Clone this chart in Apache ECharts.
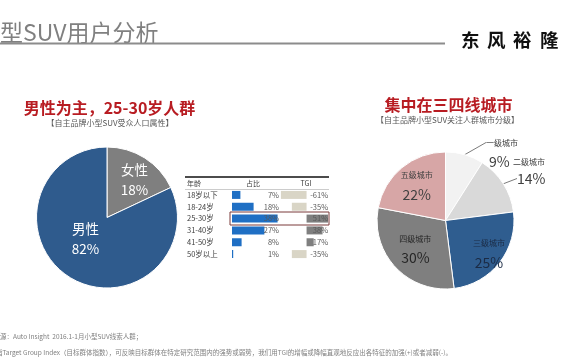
<!DOCTYPE html>
<html><head><meta charset="utf-8">
<script src="https://cdn.jsdelivr.net/npm/echarts@6/dist/echarts.min.js"></script>
<style>html,body{margin:0;padding:0;background:#fff}#c{width:570px;height:360px}</style>
</head><body><div id="c"></div>
<script>
const genderCats = ['女性', '男性'];
const genderVals = [18, 82];
const ageCats = ['18岁以下', '18-24岁', '25-30岁', '31-40岁', '41-50岁', '50岁以上'];
const ageShare = [7, 18, 38, 27, 8, 1];
const ageTGI = [-61, -35, 51, 38, 17, -35];
const cityCats = ['一级城市', '二级城市', '三级城市', '四级城市', '五级城市'];
const cityVals = [9, 14, 25, 30, 22];

const FF = '"Noto Sans CJK SC", "Noto Sans", sans-serif';
const SHARE_MAX = 40, TGI_MIN = -62, TGI_MAX = 56;

function txt(x, y, text, size, fill, opts) {
  return Object.assign({ type: 'text', x: x, y: y, silent: true,
    style: Object.assign({ text: text, fontSize: size, fontFamily: FF, fill: fill,
      align: 'left', verticalAlign: 'middle' }, (opts || {})) });
}

const graphics = [
  txt(0, 32, '型SUV用户分析', 23, '#808080'),
  { type: 'line', silent: true, shape: { x1: 0, y1: 43.5, x2: 445, y2: 43.5 }, style: { stroke: '#8C8C8C', lineWidth: 2 } },
  txt(461, 40, '东', 18.5, '#111', { fontWeight: 'bold' }),
  txt(487, 40, '风', 18.5, '#111', { fontWeight: 'bold' }),
  txt(513, 40, '裕', 18.5, '#111', { fontWeight: 'bold' }),
  txt(540, 40, '隆', 18.5, '#111', { fontWeight: 'bold' }),
  txt(109.5, 108, '男性为主，25-30岁人群', 16, '#B81C22', { fontWeight: 'bold', align: 'center' }),
  txt(110, 123, '【自主品牌小型SUV受众人口属性】', 8, '#595959', { align: 'center' }),
  txt(448.5, 105, '集中在三四线城市', 16, '#B81C22', { fontWeight: 'bold', align: 'center' }),
  txt(447.5, 120, '【自主品牌小型SUV关注人群城市分级】', 8, '#595959', { align: 'center' }),
  { type: 'line', silent: true, shape: { x1: 185, y1: 177, x2: 329, y2: 177 }, style: { stroke: '#111', lineWidth: 1.5 } },
  { type: 'line', silent: true, shape: { x1: 185, y1: 189.5, x2: 329, y2: 189.5 }, style: { stroke: '#BFBFBF', lineWidth: 0.8 } },
  txt(187, 183, '年龄', 7, '#404040'),
  txt(253, 183, '占比', 7, '#404040', { align: 'center' }),
  txt(306, 183, 'TGI', 7, '#404040', { align: 'center' }),
  { type: 'rect', silent: true, z: 100, shape: { x: 230, y: 212, width: 99, height: 13 }, style: { fill: 'none', stroke: '#7A3B3B', lineWidth: 1 } },
  txt(0, 337, '源：Auto Insight  2016.1-1月小型SUV线索人群；', 6.5, '#808080'),
  txt(-4, 353, '指Target Group Index（目标群体指数），可反映目标群体在特定研究范围内的强势或弱势，我们用TGI的增幅或降幅直观地反应出各特征的加强(+)或者减弱(-)。', 6.5, '#808080')
];

const genderColors = ['#7F7F7F', '#2F5B8D'];
const cityColors = ['#F2F2F2', '#D9D9D9', '#2F5D8F', '#7F7F7F', '#D7A6A6'];
const cityTextColors = ['#404040', '#404040', '#1B2B45', '#262626', '#404040'];
const CITY_CENTER = [445.5, 220.5], CITY_R = 68.5;

const option = {
  animation: false,
  backgroundColor: '#fff',
  textStyle: { fontFamily: FF },
  graphic: graphics,
  grid: [
    { left: 232, top: 189, width: 48, height: 71 },
    { left: 280.5, top: 189, width: 49.6, height: 71 }
  ],
  xAxis: [
    { gridIndex: 0, type: 'value', min: 0, max: SHARE_MAX, show: false },
    { gridIndex: 1, type: 'value', min: TGI_MIN, max: TGI_MAX, show: false }
  ],
  yAxis: [
    { gridIndex: 0, type: 'category', data: ageCats, inverse: true,
      axisLine: { show: false }, axisTick: { show: false },
      axisLabel: { margin: 45, align: 'left', fontSize: 7.5, color: '#404040', fontFamily: FF } },
    { gridIndex: 1, type: 'category', data: ageCats, inverse: true, show: false }
  ],
  series: [
    { type: 'bar', xAxisIndex: 0, yAxisIndex: 0, data: ageShare, barWidth: 8, barGap: '-100%',
      itemStyle: { color: '#1F6FC4' }, silent: true, z: 2 },
    { type: 'bar', xAxisIndex: 0, yAxisIndex: 0, barWidth: 8, barGap: '-100%', silent: true, z: 3,
      data: ageShare.map(() => SHARE_MAX), itemStyle: { color: 'transparent' },
      label: { show: true, position: 'insideRight', distance: 1, fontSize: 7.5, color: '#595959', fontFamily: FF,
        formatter: p => ageShare[p.dataIndex] + '%' } },
    { type: 'bar', xAxisIndex: 1, yAxisIndex: 1, barWidth: 8, barGap: '-100%', silent: true, z: 2,
      data: ageTGI.map(v => ({ value: v, itemStyle: { color: v < 0 ? '#D9D5C6' : '#7F7F7F' } })) },
    { type: 'bar', xAxisIndex: 1, yAxisIndex: 1, barWidth: 8, barGap: '-100%', silent: true, z: 3,
      data: ageTGI.map(() => TGI_MAX), itemStyle: { color: 'transparent' },
      label: { show: true, position: 'insideRight', distance: 2, fontSize: 7.5, color: '#595959', fontFamily: FF,
        formatter: p => ageTGI[p.dataIndex] + '%' } },
    { type: 'pie', center: [107, 217.5], radius: [0, 70.5], startAngle: 90, clockwise: true, silent: true,
      data: genderCats.map((n, i) => ({ name: n, value: genderVals[i], itemStyle: { color: genderColors[i] } })),
      itemStyle: { borderColor: '#fff', borderWidth: 1 },
      label: { position: 'inner', formatter: '{b}\n{c}%', color: '#fff', fontSize: 13.5, lineHeight: 20, fontFamily: FF },
      labelLine: { show: false },
      labelLayout: p => { const o = [[7, -5], [-1, -11]][p.dataIndex]; return { dx: o[0], dy: o[1] }; } },
    // label-only overlay for the outside labels without leader lines (9% and 二级城市)
    { type: 'pie', center: CITY_CENTER, radius: [0, CITY_R], startAngle: 90, clockwise: true, silent: true,
      avoidLabelOverlap: false, z: 1,
      itemStyle: { color: 'transparent', borderWidth: 0 },
      data: cityCats.map((n, i) => ({ name: n, value: cityVals[i], label: { show: i < 2 } })),
      label: { position: 'outside', color: '#404040', fontFamily: FF,
        formatter: p => p.dataIndex === 0 ? p.value + '%' : p.name },
      labelLine: { show: false },
      labelLayout: p => {
        if (p.dataIndex === 0) return { x: 489, y: 162, align: 'left', verticalAlign: 'middle', fontSize: 14 };
        if (p.dataIndex === 1) return { x: 513, y: 162, align: 'left', verticalAlign: 'middle', fontSize: 8 };
        return {};
      } },
    { type: 'pie', center: CITY_CENTER, radius: [0, CITY_R], startAngle: 90, clockwise: true, silent: true,
      avoidLabelOverlap: false, z: 2,
      itemStyle: { borderColor: '#fff', borderWidth: 1 },
      data: cityCats.map((n, i) => {
        const outside = i < 2;
        return { name: n, value: cityVals[i], itemStyle: { color: cityColors[i] },
          label: outside
            ? { position: 'outside', color: '#404040', fontSize: i === 0 ? 8 : 14, padding: [0, 0, 0, i === 0 ? 8 : 3],
                formatter: i === 0 ? '{b}' : '{c}%' }
            : { position: 'inner', color: cityTextColors[i], formatter: '{n|{b}}\n{p|{c}%}',
                rich: { n: { fontSize: 8, lineHeight: 19, fontFamily: FF, color: cityTextColors[i] },
                        p: { fontSize: 14, lineHeight: 19, fontFamily: FF, color: cityTextColors[i] } } },
          labelLine: { show: outside, length: 8, length2: 0, lineStyle: { color: '#595959', width: 0.8 } } };
      }),
      label: { fontFamily: FF },
      labelLayout: p => {
        const L = [
          { x: 478, y: 142.5, align: 'left', verticalAlign: 'middle' },
          { x: 514, y: 178.5, align: 'left', verticalAlign: 'middle' },
          { dx: 14, dy: 9.5 },
          { dx: -3, dy: 2.5 },
          { dx: -5, dy: -7 }
        ];
        return L[p.dataIndex];
      } }
  ]
};
echarts.init(document.getElementById('c'), null, { renderer: 'canvas' }).setOption(option);
</script></body></html>
